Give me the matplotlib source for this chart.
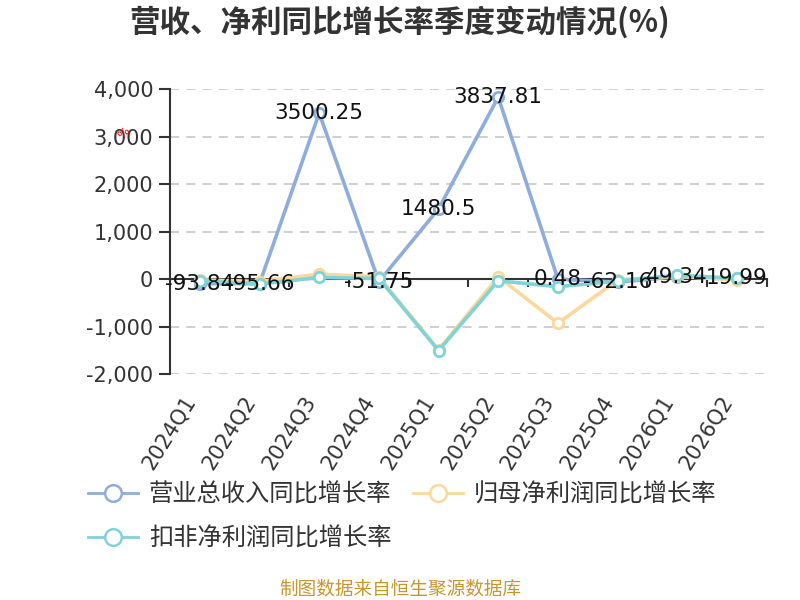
import matplotlib
matplotlib.use("Agg")
import matplotlib.pyplot as plt
from matplotlib.lines import Line2D
from matplotlib.ticker import FuncFormatter, FixedLocator

plt.rcParams['font.family'] = ['DejaVu Sans', 'Noto Sans CJK SC']
CJK = ['Noto Sans CJK SC', 'DejaVu Sans']

categories = ['2024Q1', '2024Q2', '2024Q3', '2024Q4', '2025Q1',
              '2025Q2', '2025Q3', '2025Q4', '2026Q1', '2026Q2']
revenue = [-93.84, -95.66, 3500.25, -51.75, 1480.5, 3837.81, 0.48, -62.16, 49.34, 19.99]
revenue_labels = ['-93.84', '-95.66', '3500.25', '-51.75', '1480.5',
                  '3837.81', '0.48', '-62.16', '49.34', '19.99']
net_profit = [-15, -50, 105, 50, -1490, 50, -930, -20, 60, -20]
deducted = [-35, -105, 35, 15, -1507, -35, -160, -40, 85, 15]
series_names = ['营业总收入同比增长率', '归母净利润同比增长率', '扣非净利润同比增长率']
colors = ['#8eaddc', '#fdd79b', '#80d3d6']
yticks = [-2000, -1000, 0, 1000, 2000, 3000, 4000]

fig = plt.figure(figsize=(8, 6), dpi=100)
ax = fig.add_axes([0.2125, 0.3767, 0.746, 0.4742])
x = list(range(len(categories)))

for i, (vals, c) in enumerate(zip([revenue, net_profit, deducted], colors)):
    ax.plot(x, vals, color=c, lw=2.6, marker='o', markersize=7.5,
            markerfacecolor='white', markeredgecolor=c, markeredgewidth=2,
            zorder=3 + i)

for xi, v, lab in zip(x, revenue, revenue_labels):
    ax.text(xi, v, lab, ha='center', va='center',
            fontsize=15.5, color='#111111', zorder=10)

ax.set_xlim(-0.5, len(categories) - 0.5)
ax.set_ylim(-2000, 4000)
ax.set_yticks(yticks)
ax.yaxis.set_major_formatter(FuncFormatter(lambda v, p: f'{int(v):,}'))
ax.tick_params(axis='y', direction='out', length=8, width=1.5, color='#333333',
               labelsize=15, labelcolor='#333333', pad=4)
ax.yaxis.grid(True, linestyle=(0, (5, 4)), color='#cccccc', lw=1.3)
ax.set_axisbelow(True)

for s in ['top', 'right']:
    ax.spines[s].set_visible(False)
ax.spines['left'].set_color('#333333')
ax.spines['left'].set_linewidth(1.5)
ax.spines['bottom'].set_position(('data', 0))
ax.spines['bottom'].set_color('#333333')
ax.spines['bottom'].set_linewidth(1.5)
ax.spines['bottom'].set_zorder(2.5)

ax.set_xticks(x)
ax.set_xticklabels([])
ax.tick_params(axis='x', which='major', length=0)
ax.xaxis.set_minor_locator(FixedLocator([k - 0.5 for k in range(len(categories) + 1)]))
ax.tick_params(axis='x', which='minor', direction='out', length=6, width=1.5, color='#333333')

sec = ax.secondary_xaxis(0.0)
sec.set_xticks(x)
sec.set_xticklabels(categories, rotation=58, ha='right', fontsize=15, color='#333333')
sec.tick_params(length=0, pad=13)
sec.spines['bottom'].set_visible(False)

fig.text(0.5, 0.962, '营收、净利同比增长率季度变动情况(%)', ha='center', va='center',
         fontsize=22, fontweight='bold', color='#333333', family=CJK)

fig.text(0.155, 0.778, '%', ha='center', va='center', fontsize=9, color='red',
         rotation=45)

handles = [Line2D([0], [0], color=c, lw=2, marker='o', markersize=12,
                  markerfacecolor='white', markeredgecolor=c, markeredgewidth=1.8)
           for c in colors]
order = [0, 2, 1]  # column-major fill -> row 1: series 0, 1; row 2: series 2
leg = fig.legend([handles[k] for k in order], [series_names[k] for k in order],
                 loc='upper left', bbox_to_anchor=(0.11, 0.198),
                 ncol=2, frameon=False, handlelength=2.05, handletextpad=0.45,
                 columnspacing=0.9, labelspacing=0.75, borderpad=0, borderaxespad=0,
                 prop={'family': CJK, 'size': 17.5})
for t in leg.get_texts():
    t.set_color('#333333')

fig.text(0.5, 0.017, '制图数据来自恒生聚源数据库', ha='center', va='center',
         fontsize=13.4, color='#c9962c', family=CJK)

fig.savefig('out.png', dpi=100)
